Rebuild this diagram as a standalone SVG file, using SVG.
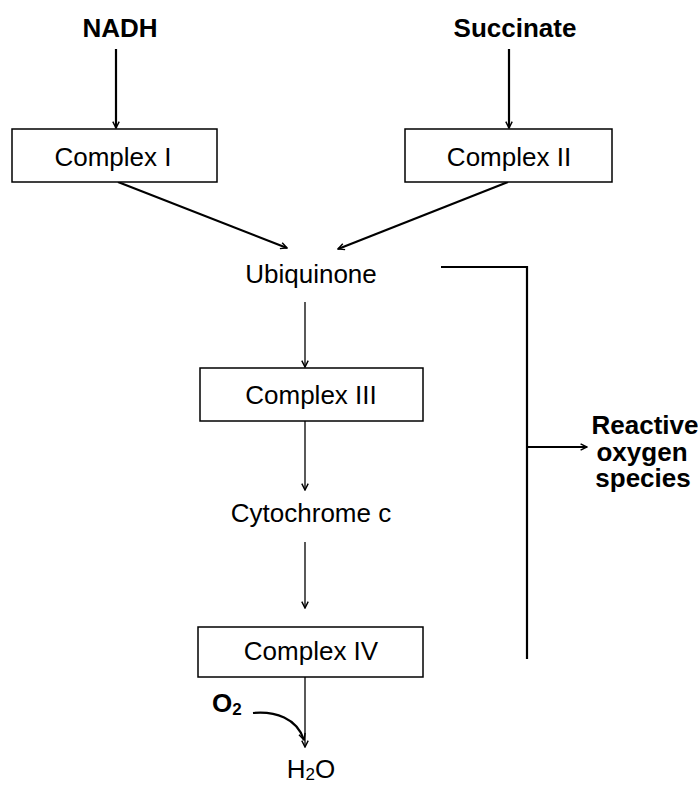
<svg xmlns="http://www.w3.org/2000/svg" width="698" height="785" viewBox="0 0 698 785">
<defs>
<style>
.t{font-family:"Liberation Sans",Arial,sans-serif;font-size:26px;fill:#000;text-anchor:middle}
.b{font-weight:bold}
.box{fill:#fff;stroke:#000;stroke-width:1.5}
.ln{fill:none;stroke:#000;stroke-width:1.3}
.thk{stroke-width:2.2}
</style>
<marker id="ah" viewBox="0 0 10 10" refX="9" refY="5" markerWidth="8" markerHeight="8" markerUnits="userSpaceOnUse" orient="auto">
<polyline points="1,1 9,5 1,9" fill="none" stroke="#000" stroke-width="1.8"/>
</marker>
</defs>
<rect width="698" height="785" fill="#fff"/>
<g id="connectors">
<line class="ln thk" x1="116" y1="49" x2="116" y2="128" marker-end="url(#ah)"/>
<line class="ln thk" x1="509" y1="49" x2="509" y2="128" marker-end="url(#ah)"/>
<line class="ln thk" x1="118" y1="182" x2="287" y2="248" marker-end="url(#ah)"/>
<line class="ln thk" x1="508" y1="182" x2="338" y2="249" marker-end="url(#ah)"/>
<line class="ln" x1="305" y1="302" x2="305" y2="367" marker-end="url(#ah)"/>
<line class="ln" x1="305" y1="421" x2="305" y2="490" marker-end="url(#ah)"/>
<line class="ln" x1="305" y1="542" x2="305" y2="608" marker-end="url(#ah)"/>
<line class="ln" x1="305" y1="677" x2="305" y2="747" marker-end="url(#ah)"/>
<path class="ln thk" d="M441,267 H527 V659"/>
<line class="ln thk" x1="527" y1="447" x2="587" y2="447" marker-end="url(#ah)"/>
<path class="ln thk" d="M253,713 C275,711 297,718 304,740" marker-end="url(#ah)"/>
</g>
<g id="nadh"><text class="t b" x="120" y="37" font-size="27">NADH</text></g>
<g id="succinate"><text class="t b" x="515" y="37" font-size="27">Succinate</text></g>
<g id="complex1"><rect class="box" x="12" y="129" width="205" height="53"/><text class="t" x="113" y="166">Complex I</text></g>
<g id="complex2"><rect class="box" x="405" y="129" width="207" height="53"/><text class="t" x="509" y="166">Complex II</text></g>
<g id="ubiquinone"><text class="t" x="311" y="283">Ubiquinone</text></g>
<g id="complex3"><rect class="box" x="200" y="368" width="223" height="53"/><text class="t" x="311" y="404">Complex III</text></g>
<g id="cytochrome"><text class="t" x="311" y="522">Cytochrome c</text></g>
<g id="complex4"><rect class="box" x="198" y="627" width="225" height="50"/><text class="t" x="311" y="660">Complex IV</text></g>
<g id="h2o"><text class="t" x="311" y="778">H<tspan font-size="17" dy="2">2</tspan><tspan dy="-2">O</tspan></text></g>
<g id="o2"><text class="t b" x="212" y="712" style="text-anchor:start">O<tspan font-size="17" dy="3">2</tspan></text></g>
<g id="ros"><text class="t b" font-size="23" x="645" y="434">Reactive</text><text class="t b" font-size="23" x="642" y="460.5">oxygen</text><text class="t b" font-size="23" x="643" y="487">species</text></g>
</svg>
